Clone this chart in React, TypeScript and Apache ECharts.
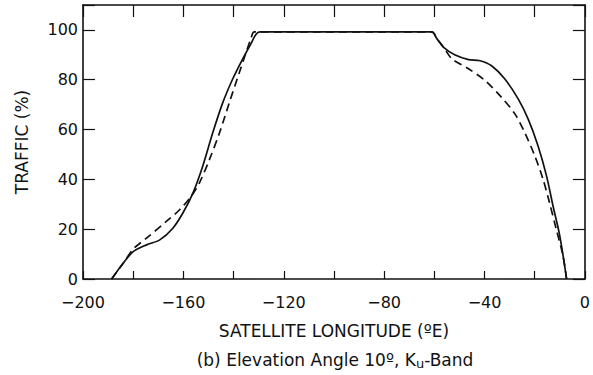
import React, { useEffect, useRef } from "react";
import * as echarts from "echarts";

const solidLon = [-188.6, -184, -180, -174.7, -169.4, -164.2, -160.2, -156.2, -152.3, -148.3, -144.3, -140.4, -136.4, -133.1, -131.1, -129.5, -61, -59, -56.3, -51.7, -46.4, -41.8, -37.2, -31.9, -26.6, -22.6, -18.7, -15.3, -12.7, -10, -7.3];
const solidTraffic = [0, 6.3, 11, 13.7, 15.7, 20.4, 26.5, 34.5, 45.3, 58.7, 70.8, 80.2, 88.3, 94.4, 98.2, 99.2, 99.2, 96.5, 93, 89.9, 88.1, 87.6, 85.6, 80.3, 72.3, 64.2, 53.5, 41.4, 29.3, 17.2, 0];

const dashedLon = [-188.6, -184, -180, -174.7, -166.8, -161.5, -156.9, -153.6, -149.6, -145.6, -141.7, -137.7, -135, -133.1, -131.7, -61, -59, -56.3, -53, -46.4, -39.8, -33.2, -27.9, -24, -20, -16.7, -14.1, -11.4, -8.7, -7.3];
const dashedTraffic = [0, 6.3, 12, 16.4, 23.1, 27.8, 33.2, 38.6, 48, 58.7, 70.8, 82.9, 91, 96.4, 99.2, 99.2, 96.5, 93, 88.4, 84.4, 79.7, 72.9, 66.3, 58.8, 49.5, 40.1, 30.6, 19.9, 9.2, 0];

const xTicks = { min: -200, max: 0, step: 20, labelStep: 40 };
const yTicks = { min: 0, max: 110, step: 20, labelMax: 100 };

const xTitle = "SATELLITE LONGITUDE (ºE)";
const yTitle = "TRAFFIC (%)";

const font = "'DejaVu Sans', Verdana, sans-serif";
const ink = "#111";

export default function App() {
  const ref = useRef<HTMLDivElement>(null);
  useEffect(() => {
    document.body.style.margin = "0";
    const chart = echarts.init(ref.current!, null, { renderer: "svg" });
    const pair = (xs: number[], ys: number[]) => xs.map((x, i) => [x, ys[i]]);
    const xLabel = (v: number) => (v % xTicks.labelStep === 0 ? String(v).replace("-", "\u2212") : "");
    const yLabel = (v: number) => (v <= yTicks.labelMax ? String(v) : "");
    const axisLine = { show: true, onZero: false, lineStyle: { color: ink, width: 1.6 } };
    const tick = (len: number) => ({ inside: true, length: len, lineStyle: { color: ink, width: 1.2 } });
    chart.setOption({
      animation: false,
      backgroundColor: "#fff",
      grid: { left: 83, right: 6, top: 5, bottom: 96, show: false, containLabel: false },
      xAxis: [
        {
          type: "value", min: xTicks.min, max: xTicks.max, interval: xTicks.step,
          position: "bottom",
          axisLine, splitLine: { show: false },
          axisTick: tick(8),
          axisLabel: { formatter: xLabel, color: ink, fontSize: 16, fontFamily: font, margin: 15, showMaxLabel: true, showMinLabel: true },
          name: xTitle, nameLocation: "middle", nameGap: 43,
          nameTextStyle: { color: ink, fontSize: 17, fontFamily: font },
        },
        {
          type: "value", min: xTicks.min, max: xTicks.max, interval: xTicks.step,
          position: "top",
          axisLine, splitLine: { show: false },
          axisTick: tick(12),
          axisLabel: { show: false },
        },
      ],
      yAxis: [
        {
          type: "value", min: yTicks.min, max: yTicks.max, interval: yTicks.step,
          position: "left",
          axisLine, splitLine: { show: false },
          axisTick: tick(12),
          axisLabel: { formatter: yLabel, color: ink, fontSize: 16, fontFamily: font, margin: 5 },
          name: yTitle, nameLocation: "middle", nameGap: 53,
          nameTextStyle: { color: ink, fontSize: 17, fontFamily: font },
        },
        {
          type: "value", min: yTicks.min, max: yTicks.max, interval: yTicks.step,
          position: "right",
          axisLine, splitLine: { show: false },
          axisTick: tick(12),
          axisLabel: { show: false },
        },
      ],
      title: {
        text: "(b) Elevation Angle 10º, K{u|u}-Band",
        left: 335, top: 350, textAlign: "center", padding: 0,
        textStyle: {
          fontSize: 17, fontWeight: "normal", color: ink, fontFamily: font, lineHeight: 20,
          rich: {
            u: { fontSize: 13, color: ink, fontFamily: font, lineHeight: 14, padding: [6, 0, 0, 0] },
          },
        },
      },
      series: [
        {
          type: "line", data: pair(solidLon, solidTraffic), smooth: 0.3, showSymbol: false,
          lineStyle: { color: ink, width: 1.7 },
        },
        {
          type: "line", data: pair(dashedLon, dashedTraffic), smooth: 0.3, showSymbol: false,
          lineStyle: { color: ink, width: 1.7, type: [8, 5] },
        },
      ],
    });
    return () => chart.dispose();
  }, []);
  return <div ref={ref} style={{ width: 593, height: 375, position: "absolute", left: 0, top: 0 }} />;
}
